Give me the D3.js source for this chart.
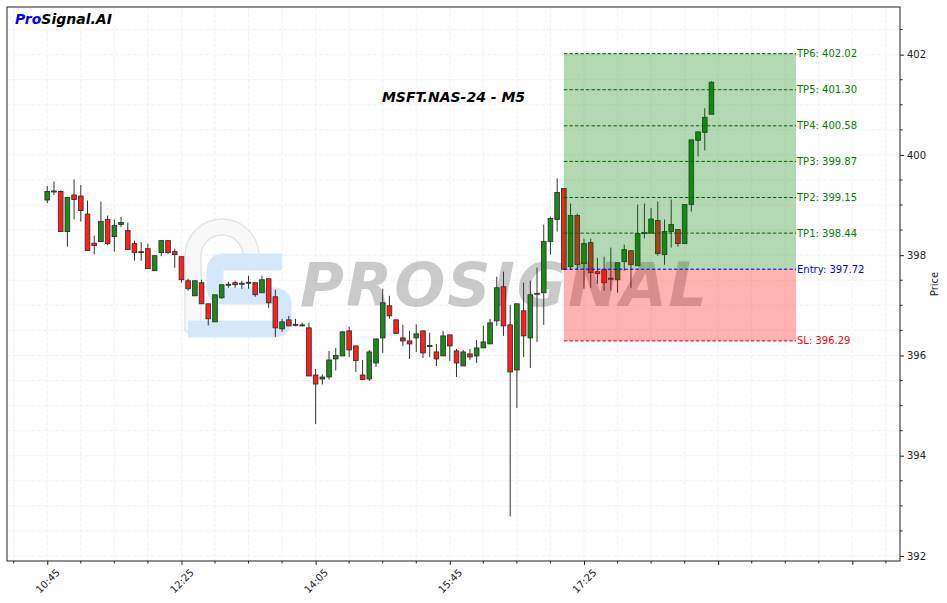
<!DOCTYPE html>
<html><head><meta charset="utf-8">
<script src="https://cdn.jsdelivr.net/npm/d3@7"></script>
<style>body{margin:0;background:#fff}svg{display:block}text{font-family:"DejaVu Sans",sans-serif}</style>
</head><body><svg id="c" width="947" height="603"></svg>
<script>
const opens  = [399.10,399.26,399.27,398.47,399.20,399.18,398.82,398.24,398.27,398.71,398.37,398.61,398.49,398.23,398.07,398.13,397.69,398.05,398.29,398.07,397.97,397.49,397.19,397.45,397.03,396.67,397.15,397.40,397.45,397.42,397.44,397.45,397.25,397.53,397.17,396.53,396.71,396.62,396.61,396.55,395.61,395.53,395.57,395.93,395.99,396.49,396.19,395.61,395.53,395.85,396.35,396.99,396.71,396.35,396.29,396.35,396.49,396.18,396.07,395.99,396.41,396.09,395.79,396.03,395.99,396.15,396.23,396.69,397.37,396.61,395.71,396.89,396.35,397.22,397.25,398.27,398.71,399.33,397.77,398.79,397.83,398.25,397.67,397.71,397.52,397.51,397.87,398.09,397.79,398.43,398.44,398.69,398.01,398.47,398.51,398.23,399.01,400.29,400.45,400.81];
const highs  = [399.38,399.47,399.29,399.15,399.51,399.40,399.09,398.39,399.07,398.79,398.71,398.76,398.65,398.29,398.26,398.23,397.99,398.29,398.29,398.13,397.97,397.53,397.49,397.51,397.03,397.21,397.41,397.47,397.49,397.49,397.59,397.45,397.59,397.53,397.31,396.73,396.79,396.73,396.65,396.65,395.73,395.62,396.09,396.15,396.49,396.57,396.19,395.91,396.11,396.33,397.33,397.19,396.71,396.61,396.49,396.62,396.49,396.45,396.23,396.49,396.41,396.13,396.11,396.13,396.31,396.59,396.73,397.57,397.67,397.01,397.03,397.45,397.49,397.75,398.61,398.77,399.53,399.33,399.03,398.83,398.33,398.33,397.95,397.97,398.15,397.85,398.21,398.09,399.01,399.03,398.94,399.07,398.71,399.11,398.51,399.01,400.30,400.46,400.93,401.47];
const lows   = [399.04,399.20,398.47,398.17,398.71,398.67,398.09,398.02,398.26,398.20,398.07,398.56,398.11,397.89,397.89,397.73,397.69,397.98,398.02,397.75,397.45,397.29,397.19,397.03,396.60,396.67,397.13,397.35,397.35,397.33,397.33,397.17,397.25,396.95,396.37,396.47,396.59,396.58,396.58,395.59,394.63,395.42,395.52,395.70,395.99,395.97,395.67,395.52,395.49,395.77,396.05,396.73,396.44,396.19,395.93,396.07,395.95,395.97,395.79,395.99,395.89,395.57,395.79,395.91,395.85,396.15,396.23,396.59,396.39,392.79,394.95,395.97,395.75,396.27,396.61,398.01,398.47,397.71,397.71,397.71,397.33,397.35,397.43,397.29,397.29,397.25,397.69,397.35,397.79,398.33,398.44,397.99,397.81,398.15,398.17,398.23,398.87,399.97,400.09,400.81];
const closes = [399.27,399.28,398.47,399.15,399.11,398.89,398.09,398.19,398.67,398.23,398.59,398.65,398.11,398.05,398.06,397.73,397.99,398.29,398.05,398.01,397.51,397.33,397.49,397.03,396.73,397.21,397.41,397.42,397.41,397.44,397.46,397.21,397.51,397.05,396.55,396.67,396.59,396.60,396.60,395.59,395.43,395.57,395.91,396.00,396.47,396.11,395.90,395.52,396.07,396.33,397.05,396.79,396.44,396.29,396.23,396.43,396.05,396.20,395.93,396.39,396.19,395.85,396.07,395.97,396.15,396.27,396.65,397.35,396.59,395.67,397.03,396.39,397.21,397.24,398.27,398.73,399.25,397.72,398.79,397.81,398.23,397.65,397.63,397.45,397.54,397.85,398.11,397.81,398.43,398.45,398.72,398.03,398.47,398.61,398.23,399.01,400.30,400.46,400.75,401.45];

const xTickIdx = [0,20,40,60,80,100,120];
const xTickLabels = ["10:45","12:25","14:05","15:45","17:25","",""];
const yTickValues = [392,394,396,398,400,402];

const tpNames = ["TP1","TP2","TP3","TP4","TP5","TP6"];
const tpValues = [398.44,399.15,399.87,400.58,401.30,402.02];
const entryValue = 397.72;
const slValue = 396.29;
const zoneStartIdx = 77;
const zoneEndIdx = 111.6;

const title = "MSFT.NAS-24 - M5";

const svg = d3.select("#c");
const L=7,R=900,T=7,B=561;
const x = d3.scaleLinear().domain([-6,127.1]).range([L,R]);
const y = d3.scaleLinear().domain([391.9,402.95]).range([B,T]);
const step = x(1)-x(0);

// grid
const g = svg.append("g");
g.selectAll(".vg").data(d3.range(-5,127,5)).join("line")
  .attr("x1",d=>x(d)).attr("x2",d=>x(d)).attr("y1",T).attr("y2",B)
  .attr("stroke","#efefef").attr("stroke-width",0.8).attr("stroke-dasharray","4,2");
g.selectAll(".hg").data(d3.range(392,403,0.5)).join("line")
  .attr("x1",L).attr("x2",R).attr("y1",d=>y(d)).attr("y2",d=>y(d))
  .attr("stroke","#efefef").attr("stroke-width",0.8).attr("stroke-dasharray","4,2");

// watermark logo
const wm = svg.append("g");
wm.append("path")
  .attr("d","M185,330 L185,256 A37,37 0 0 1 259,256 L259,263 L243,263 L243,256 A21,21 0 0 0 201,256 L201,322 L193,336 Z")
  .attr("fill","#f8f8f8").attr("stroke","#e4e4e4").attr("stroke-width",1.5);
wm.append("path")
  .attr("d","M282,262 L224,262 Q215,262 215,271 L215,287 Q215,296 224,296 L274,296 Q283,296 283,305 L283,320 Q283,329 274,329 L188,329")
  .attr("fill","none").attr("stroke","#d3e9fb").attr("stroke-width",17).attr("stroke-linejoin","round");
wm.append("text").attr("x",300).attr("y",306)
  .attr("font-size",60).attr("font-weight","bold").attr("font-style","italic")
  .attr("letter-spacing",2).attr("fill","#808080").attr("fill-opacity",0.42)
  .text("PROSIGNAL");

// candles
const data = opens.map((o,i)=>({i,o,h:highs[i],l:lows[i],c:closes[i]}));
const cg = svg.append("g");
cg.selectAll(".w").data(data).join("line")
  .attr("x1",d=>x(d.i)).attr("x2",d=>x(d.i)).attr("y1",d=>y(d.h)).attr("y2",d=>y(d.l))
  .attr("stroke","#333").attr("stroke-width",1);
const bw = step*0.7;
cg.selectAll(".b").data(data).join("rect")
  .attr("x",d=>x(d.i)-bw/2).attr("width",bw)
  .attr("y",d=>y(Math.max(d.o,d.c)))
  .attr("height",d=>Math.max(1,Math.abs(y(d.o)-y(d.c))))
  .attr("fill",d=>d.c>=d.o?"#1a8a1a":"#ff1f1f")
  .attr("stroke","#2a2a2a").attr("stroke-width",0.8);

// zones
const zx0 = x(zoneStartIdx), zx1 = x(zoneEndIdx);
svg.append("rect").attr("x",zx0).attr("width",zx1-zx0)
  .attr("y",y(tpValues[5])).attr("height",y(entryValue)-y(tpValues[5]))
  .attr("fill","#008000").attr("fill-opacity",0.3);
svg.append("rect").attr("x",zx0).attr("width",zx1-zx0)
  .attr("y",y(entryValue)).attr("height",y(slValue)-y(entryValue))
  .attr("fill","#ff0000").attr("fill-opacity",0.3);

// levels
const levels = tpValues.map((v,k)=>({v,label:`${tpNames[k]}: ${v.toFixed(2)}`,color:"#008000",lc:"#006400"}))
  .concat([{v:entryValue,label:`Entry: ${entryValue.toFixed(2)}`,color:"#0000ff",lc:"#0000cc"},
           {v:slValue,label:`SL: ${slValue.toFixed(2)}`,color:"#ff0000",lc:"#dd0000"}]);
const lg = svg.append("g");
lg.selectAll("line").data(levels).join("line")
  .attr("x1",zx0).attr("x2",zx1).attr("y1",d=>y(d.v)).attr("y2",d=>y(d.v))
  .attr("stroke",d=>d.lc).attr("stroke-width",1).attr("stroke-dasharray","3.5,2");
lg.selectAll("text").data(levels).join("text")
  .attr("x",zx1+1).attr("y",d=>y(d.v)).attr("dy","0.35em")
  .attr("font-size",10).attr("fill",d=>d.color).text(d=>d.label);

// frame
svg.append("rect").attr("x",L).attr("y",T).attr("width",R-L).attr("height",B-T)
  .attr("fill","none").attr("stroke","#222").attr("stroke-width",1);

// y axis (right)
const yAxis = d3.axisRight(y).tickValues(yTickValues).tickFormat(d3.format("d")).tickSize(4).tickPadding(3);
const ya = svg.append("g").attr("transform",`translate(${R},0)`).call(yAxis);
ya.select(".domain").remove();
ya.selectAll("text").attr("font-size",10).attr("fill","#222").attr("font-family","DejaVu Sans");
ya.selectAll(".tick line").attr("stroke","#222");
svg.append("g").selectAll("line").data(d3.range(392,403,0.5).filter(v=>v%2!==0)).join("line")
  .attr("x1",R).attr("x2",R+2.5).attr("y1",d=>y(d)).attr("y2",d=>y(d)).attr("stroke","#222");

// x axis
const xAxis = d3.axisBottom(x).tickValues(xTickIdx).tickFormat((d,k)=>xTickLabels[k]).tickSize(4).tickPadding(3);
const xa = svg.append("g").attr("transform",`translate(0,${B})`).call(xAxis);
xa.select(".domain").remove();
xa.selectAll(".tick line").attr("stroke","#222");
xa.selectAll("text").attr("font-size",10).attr("fill","#222").attr("font-family","DejaVu Sans")
  .attr("text-anchor","middle").attr("dy",null).attr("y",null)
  .attr("transform","translate(0,20) rotate(-45)").attr("dominant-baseline","central");
svg.append("g").selectAll("line").data(d3.range(-5,127,5).filter(v=>v%20!==0)).join("line")
  .attr("x1",d=>x(d)).attr("x2",d=>x(d)).attr("y1",B).attr("y2",B+2.5).attr("stroke","#222");

// axis label
svg.append("text").attr("transform",`translate(938,${(T+B)/2}) rotate(-90)`)
  .attr("text-anchor","middle").attr("font-size",10).attr("fill","#222").text("Price");

// title
svg.append("text").attr("x",453.5).attr("y",102).attr("text-anchor","middle")
  .attr("font-size",14).attr("font-weight","bold").attr("font-style","italic").text(title);

// brand
const br = svg.append("text").attr("x",15).attr("y",24).attr("font-size",14)
  .attr("font-weight","bold").attr("font-style","italic");
br.append("tspan").attr("fill","#0000ff").text("Pro");
br.append("tspan").attr("fill","#000").text("Signal.AI");
</script></body></html>
